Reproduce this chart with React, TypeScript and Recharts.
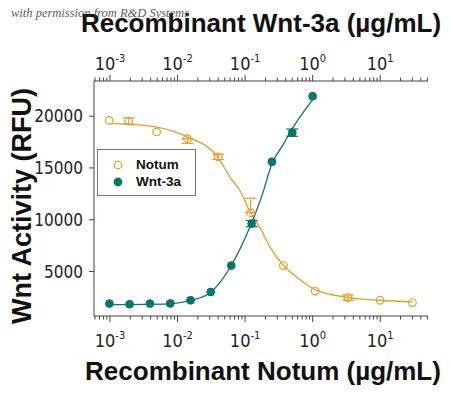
import React from 'react';
import { ComposedChart, Scatter, Line, XAxis, YAxis, ErrorBar } from 'recharts';

// measured points (µg/mL, RFU)
const notumConc = [0.00097, 0.0019, 0.0049, 0.014, 0.040, 0.121, 0.369, 1.09, 3.32, 10, 30];
const notumRfu = [19590, 19530, 18480, 17830, 16080, 10680, 5575, 3110, 2480, 2220, 2000];
const notumErrLow = [0, 300, 0, 450, 250, 0, 0, 0, 250, 0, 0];
const notumErrHigh = [0, 300, 0, 0, 250, 1400, 0, 0, 250, 0, 0];

const wntConc = [0.00098, 0.00195, 0.0039, 0.0078, 0.0156, 0.031, 0.0625, 0.125, 0.25, 0.5, 1.0];
const wntRfu = [1900, 1840, 1900, 1910, 2220, 3020, 5575, 9630, 15600, 18410, 21930];
const wntErrLow = [0, 0, 0, 0, 0, 0, 0, 300, 0, 350, 0];
const wntErrHigh = [0, 0, 0, 0, 0, 0, 0, 300, 0, 350, 0];

// fitted curves
const notumFitConc = [0.00097, 0.0019, 0.005, 0.014, 0.039, 0.06, 0.084, 0.12, 0.166, 0.234, 0.37, 0.58, 1.1, 3.4, 10, 30];
const notumFitRfu = [19300, 19220, 18950, 18000, 16100, 14100, 12800, 10700, 9240, 7350, 5575, 4450, 3250, 2480, 2220, 2060];
const wntFitConc = [0.00098, 0.0078, 0.0156, 0.031, 0.0625, 0.125, 0.177, 0.25, 0.369, 0.5, 1.0];
const wntFitRfu = [1800, 1880, 2200, 3000, 5580, 9700, 12300, 15400, 17300, 18800, 21600];

const yTicks = [5000, 10000, 15000, 20000];
const majorTicks = [0.001, 0.01, 0.1, 1, 10];
const minorSteps = [2, 3, 4, 5, 6, 7, 8, 9];
const X_DOMAIN = [0.00058, 51];

const xTicks = [0.0001, ...majorTicks]
  .flatMap(d => [d, ...minorSteps.map(m => m * d)])
  .filter(v => v >= X_DOMAIN[0] && v <= X_DOMAIN[1]);

const toPoints = (xs: number[], ys: number[], lo?: number[], hi?: number[]) =>
  xs.map((x, i) => ({ x, y: ys[i], err: lo && hi && (lo[i] || hi[i]) ? [lo[i], hi[i]] : 0 }));

const notumData = toPoints(notumConc, notumRfu, notumErrLow, notumErrHigh);
const wntData = toPoints(wntConc, wntRfu, wntErrLow, wntErrHigh);
const notumFit = toPoints(notumFitConc, notumFitRfu);
const wntFit = toPoints(wntFitConc, wntFitRfu);

const ORANGE = '#e39d2f';
const TEAL = '#0a7568';
const AXIS = '#444';
const NARROW = "'Liberation Sans Narrow', 'DejaVu Sans Condensed', sans-serif";
const BOLD = "'Liberation Sans', Arial, sans-serif";

const LogTick = ({ x, y, payload, side }: any) => {
  const v = payload.value;
  const lg = Math.log10(v);
  const exp = Math.round(lg);
  const major = Math.abs(lg - exp) < 1e-6;
  const dir = side === 'top' ? -1 : 1;
  return (
    <g>
      <line x1={x} x2={x} y1={y} y2={y + dir * (major ? 6 : 3.5)} stroke={AXIS} strokeWidth={1} />
      {major && (
        <text x={x} y={side === 'top' ? y - 11 : y + 31} textAnchor="middle" fontFamily={NARROW} fontSize={18} fill="#222">
          <tspan>10</tspan>
          <tspan dy={-8} fontSize={11}>{exp}</tspan>
        </text>
      )}
    </g>
  );
};

const OpenDot = ({ cx, cy }: any) => <circle cx={cx} cy={cy} r={3.8} fill="none" stroke={ORANGE} strokeWidth={1.2} />;
const FilledDot = ({ cx, cy }: any) => <circle cx={cx} cy={cy} r={3.9} fill={TEAL} stroke={TEAL} />;

export default function App() {
  return (
    <div style={{ position: 'absolute', left: 0, top: 0, width: 450, height: 397, background: '#fff' }}>
      <ComposedChart width={450} height={397} margin={{ top: 41, right: 22, bottom: 31, left: 34 }}>
        <XAxis
          xAxisId="bottom"
          dataKey="x"
          type="number"
          scale="log"
          domain={X_DOMAIN}
          ticks={xTicks}
          interval={0}
          height={50}
          tickSize={0}
          tickMargin={0}
          stroke={AXIS}
          allowDataOverflow
          tick={(p: any) => <LogTick {...p} side="bottom" />}
        />
        <XAxis
          xAxisId="top"
          orientation="top"
          dataKey="x"
          type="number"
          scale="log"
          domain={X_DOMAIN}
          ticks={xTicks}
          interval={0}
          height={40}
          tickSize={0}
          tickMargin={0}
          stroke={AXIS}
          allowDataOverflow
          tick={(p: any) => <LogTick {...p} side="top" />}
        />
        <YAxis
          dataKey="y"
          type="number"
          domain={[700, 23400]}
          ticks={yTicks}
          width={60}
          tickSize={5}
          tickMargin={6}
          stroke={AXIS}
          allowDataOverflow
          tick={{ fontFamily: NARROW, fontSize: 17, fill: '#222' }}
        />
        <Line xAxisId="bottom" data={notumFit} dataKey="y" type="monotone" stroke={ORANGE} strokeWidth={1.3} dot={false} isAnimationActive={false} />
        <Line xAxisId="bottom" data={wntFit} dataKey="y" type="monotone" stroke={TEAL} strokeWidth={1.3} dot={false} isAnimationActive={false} />
        <Scatter xAxisId="bottom" data={notumData} dataKey="y" shape={OpenDot} isAnimationActive={false}>
          <ErrorBar dataKey="err" direction="y" width={6} stroke={ORANGE} strokeWidth={1.2} />
        </Scatter>
        <Scatter xAxisId="bottom" data={wntData} dataKey="y" shape={FilledDot} isAnimationActive={false}>
          <ErrorBar dataKey="err" direction="y" width={6} stroke={TEAL} strokeWidth={1.2} />
        </Scatter>
      </ComposedChart>

      <svg width={450} height={397} style={{ position: 'absolute', left: 0, top: 0, pointerEvents: 'none' }}>
        <text x={261} y={32} textAnchor="middle" fontFamily={BOLD} fontWeight="bold" fontSize={26} fill="#111">
          Recombinant Wnt-3a (µg/mL)
        </text>
        <text x={11} y={17} fontFamily="'Liberation Serif', serif" fontStyle="italic" fontSize={12.5} fill="#333" opacity={0.8}>
          with permission from R&amp;D Systems
        </text>
        <text x={263} y={380} textAnchor="middle" fontFamily={BOLD} fontWeight="bold" fontSize={26} fill="#111">
          Recombinant Notum (µg/mL)
        </text>
        <text transform="translate(31,206) rotate(-90)" textAnchor="middle" fontFamily={BOLD} fontWeight="bold" fontSize={27} fill="#111">
          Wnt Activity (RFU)
        </text>
      </svg>

      <div style={{ position: 'absolute', left: 97, top: 149, width: 99, height: 47, border: '1px solid #777', background: '#fff', boxSizing: 'border-box' }}>
        {[{ name: 'Notum', open: true, color: ORANGE }, { name: 'Wnt-3a', open: false, color: TEAL }].map((item, i) => (
          <div key={item.name} style={{ position: 'absolute', left: 15, top: 8 + i * 16.5, display: 'flex', alignItems: 'center', gap: 13 }}>
            <svg width={10} height={10}>
              <circle cx={5} cy={5} r={3.8} fill={item.open ? 'none' : item.color} stroke={item.color} strokeWidth={1.2} />
            </svg>
            <span style={{ fontFamily: BOLD, fontWeight: 'bold', fontSize: 13.5, color: '#111', lineHeight: '14px' }}>{item.name}</span>
          </div>
        ))}
      </div>
    </div>
  );
}
